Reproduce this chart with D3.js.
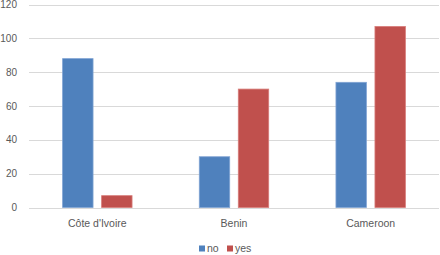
<!DOCTYPE html>
<html>
<head>
<meta charset="utf-8">
<script src="https://cdn.jsdelivr.net/npm/d3@7"></script>
<style>
  html, body { margin: 0; padding: 0; background: #fff; }
  svg { display: block; font-family: "Liberation Sans", Arial, sans-serif; }
</style>
</head>
<body>
<div id="vis"></div>
<script>
// Grouped bar chart: no / yes by country
const countries = ["Côte d'Ivoire", "Benin", "Cameroon"];
const seriesKeys = ["no", "yes"];
const noValues = [88, 30, 74];
const yesValues = [7, 70, 107];
const yTicks = [0, 20, 40, 60, 80, 100, 120];

const colors = { no: "#4f81bd", yes: "#c0504d" };
const strokes = { no: "#7fa3d3", yes: "#d77c79" };

const data = countries.map((c, i) => ({ country: c, no: noValues[i], yes: yesValues[i] }));

const width = 440;
const height = 255;
const margin = { top: 4.5, right: 1, bottom: 47.5, left: 29 };

const svg = d3.select("#vis")
  .append("svg")
  .attr("width", width)
  .attr("height", height);

const x0 = d3.scaleBand()
  .domain(countries)
  .range([margin.left, width - margin.right])
  .paddingInner(0.492)
  .paddingOuter(0.246);

const x1 = d3.scaleBand()
  .domain(seriesKeys)
  .range([0, x0.bandwidth()])
  .paddingInner(0.22);

const y = d3.scaleLinear()
  .domain([0, 120])
  .range([height - margin.bottom, margin.top]);

// Grid lines
svg.append("g")
  .selectAll("line")
  .data(yTicks)
  .enter()
  .append("line")
  .attr("x1", margin.left)
  .attr("x2", width - margin.right)
  .attr("y1", d => Math.round(y(d)) + 0.5)
  .attr("y2", d => Math.round(y(d)) + 0.5)
  .attr("stroke", "#d9d9d9")
  .attr("stroke-width", 1);

// Y tick labels
svg.append("g")
  .selectAll("text")
  .data(yTicks)
  .enter()
  .append("text")
  .attr("x", 17)
  .attr("y", d => y(d) + 3.6)
  .attr("text-anchor", "end")
  .attr("fill", "#595959")
  .style("font-size", "10px")
  .text(d => d);

// Bars
const groups = svg.append("g")
  .selectAll("g")
  .data(data)
  .enter()
  .append("g")
  .attr("transform", d => `translate(${x0(d.country)},0)`);

groups.selectAll("rect")
  .data(d => seriesKeys.map(k => ({ key: k, value: d[k] })))
  .enter()
  .append("rect")
  .attr("x", d => x1(d.key))
  .attr("y", d => y(d.value))
  .attr("width", x1.bandwidth())
  .attr("height", d => y(0) - y(d.value))
  .attr("fill", d => colors[d.key])
  .attr("stroke", d => strokes[d.key])
  .attr("stroke-width", 0.8);

// Category labels
svg.append("g")
  .selectAll("text")
  .data(countries)
  .enter()
  .append("text")
  .attr("x", d => x0(d) + x0.bandwidth() / 2)
  .attr("y", 227)
  .attr("text-anchor", "middle")
  .attr("fill", "#595959")
  .style("font-size", "10.5px")
  .text(d => d);

// Legend
const legendItems = [
  { key: "no", x: 199 },
  { key: "yes", x: 227 }
];

const legend = svg.append("g");

legend.selectAll("rect")
  .data(legendItems)
  .enter()
  .append("rect")
  .attr("x", d => d.x)
  .attr("y", 245.5)
  .attr("width", 6)
  .attr("height", 6)
  .attr("fill", d => colors[d.key]);

legend.selectAll("text")
  .data(legendItems)
  .enter()
  .append("text")
  .attr("x", d => d.x + 8)
  .attr("y", 252)
  .attr("fill", "#595959")
  .style("font-size", "10.5px")
  .text(d => d.key);
</script>
</body>
</html>
